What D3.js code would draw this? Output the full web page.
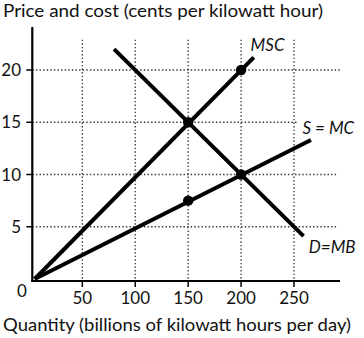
<!DOCTYPE html>
<html><head><meta charset="utf-8">
<script src="https://cdnjs.cloudflare.com/ajax/libs/d3/7.8.5/d3.min.js"></script>
<style>
html,body{margin:0;padding:0;background:#fff;}
text{font-family:Lato,"Open Sans",sans-serif;fill:#111;}
</style></head>
<body><svg id="c" width="364" height="338"></svg>
<script>
const xTicks = [50, 100, 150, 200, 250];
const yTicks = [5, 10, 15, 20];
const gridEnds = [337, 337, 298, 340];
const msc = [[5, 0], [212, 21.2]];
const supply = [[5, 0], [266, 13.3]];
const demand = [[80, 22], [259, 4.1]];
const dots = [[150, 15], [200, 10], [200, 20], [150, 7.5]];
const labels = [
  {text: "MSC", q: 209, p: 21.8},
  {text: "S = MC", q: 258, p: 13.9},
  {text: "D=MB", q: 264, p: 2.45}
];
const yTitle = "Price and cost (cents per kilowatt hour)";
const xTitle = "Quantity (billions of kilowatt hours per day)";

const svg = d3.select("#c");
const x = d3.scaleLinear().domain([0, 250]).range([29.4, 294]);
const y = d3.scaleLinear().domain([0, 20]).range([279, 70]);
const axX = 32.3, axY = 281;

// grid
const g = svg.append("g");
g.selectAll(".vg").data(xTicks).join("line")
  .attr("x1", d => x(d)).attr("x2", d => x(d))
  .attr("y1", y(22.9)).attr("y2", axY)
  .attr("stroke", "#333").attr("stroke-width", 1.3).attr("stroke-dasharray", "1.4,2.2");
g.selectAll(".hg").data(yTicks).join("line")
  .attr("x1", axX).attr("x2", (d, i) => gridEnds[i])
  .attr("y1", d => y(d)).attr("y2", d => y(d))
  .attr("stroke", "#333").attr("stroke-width", 1.3).attr("stroke-dasharray", "1.4,2.2");

// axes
svg.append("line").attr("x1", axX).attr("x2", axX).attr("y1", 27).attr("y2", axY+1)
  .attr("stroke", "#000").attr("stroke-width", 2.2);
svg.append("line").attr("x1", axX-1).attr("x2", 340).attr("y1", axY).attr("y2", axY)
  .attr("stroke", "#000").attr("stroke-width", 2.2);
svg.selectAll(".yt").data(yTicks).join("line")
  .attr("x1", axX-6).attr("x2", axX).attr("y1", d => y(d)).attr("y2", d => y(d))
  .attr("stroke", "#000").attr("stroke-width", 1.5);
svg.selectAll(".xt").data(xTicks).join("line")
  .attr("x1", d => x(d)).attr("x2", d => x(d)).attr("y1", axY).attr("y2", axY+6)
  .attr("stroke", "#000").attr("stroke-width", 1.5);
svg.selectAll(".yl").data(yTicks).join("text")
  .attr("x", 21).attr("y", d => y(d)).attr("dy", "0.36em")
  .attr("text-anchor", "end").attr("font-size", 17).text(d => d);
svg.selectAll(".xl").data(xTicks).join("text")
  .attr("x", d => x(d)).attr("y", 304)
  .attr("text-anchor", "middle").attr("font-size", 17).text(d => d);
svg.append("text").attr("x", 22).attr("y", 297).attr("text-anchor", "middle")
  .attr("font-size", 17).text("0");

// curves
const line = d3.line().x(d => x(d[0])).y(d => y(d[1]));
[msc, supply, demand].forEach(s => {
  svg.append("path").attr("d", line(s)).attr("fill", "none")
    .attr("stroke", "#000").attr("stroke-width", 4);
});
svg.selectAll(".dot").data(dots).join("circle")
  .attr("cx", d => x(d[0])).attr("cy", d => y(d[1])).attr("r", 5.2).attr("fill", "#000");

svg.selectAll(".lab").data(labels).join("text")
  .attr("x", d => x(d.q)).attr("y", d => y(d.p))
  .attr("font-size", 17).attr("font-style", "italic").text(d => d.text);

svg.append("text").attr("x", 3).attr("y", 17).attr("font-size", 17)
  .attr("textLength", 320).attr("lengthAdjust", "spacingAndGlyphs").text(yTitle);
svg.append("text").attr("x", 3).attr("y", 331).attr("font-size", 17)
  .attr("textLength", 348).attr("lengthAdjust", "spacingAndGlyphs").text(xTitle);
</script></body></html>
